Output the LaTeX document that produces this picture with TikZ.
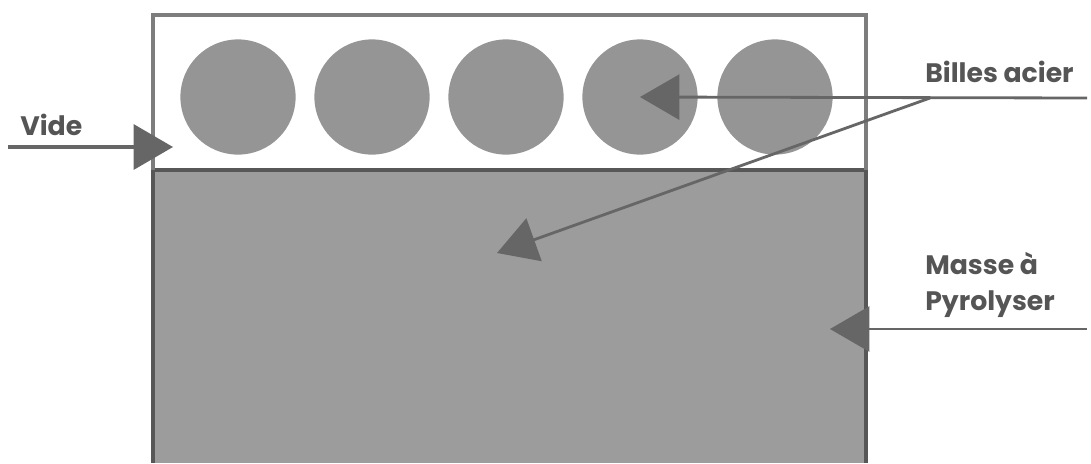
\documentclass[tikz,border=0pt]{standalone}
\usepackage{fontspec}
\setmainfont{Poppins}
\usepackage{tikz}
\usetikzlibrary{arrows.meta, positioning}

\definecolor{acier}{HTML}{959595}
\definecolor{masse}{HTML}{9C9C9C}
\definecolor{trait}{HTML}{666666}
\definecolor{texte}{HTML}{555555}

\tikzset{
  bille/.style={circle, fill=acier, minimum size=2.88cm, inner sep=0pt},
  etiquette/.style={font=\fontsize{19}{25}\selectfont\bfseries, text=texte, inner sep=0pt},
  fleche/.style={draw=trait, line width=2pt, -{Triangle[length=28pt,width=32pt]}},
}

\begin{document}
\begin{tikzpicture}[x=0.025cm, y=-0.025cm]
    \useasboundingbox (0,0) rectangle (1091,463);

    % Masse a pyrolyser (bas)
    \fill[masse] (153,170) rectangle (866,463);
    \draw[draw=trait!85!black, line width=2.2pt] (153,463) -- (153,170) -- (866,170) -- (866,463);

    % Espace vide avec les billes
    \draw[draw=trait!85, line width=2.2pt] (153,170) -- (153,15) -- (866,15) -- (866,170);
    \foreach \i/\x in {1/238, 2/372, 3/506, 4/640, 5/775}
        \node[bille] (b\i) at (\x,97) {};

    % Etiquettes
    \node[etiquette, anchor=west] (vide) at (20,125) {Vide};
    \node[etiquette, anchor=west] (billes) at (925,72) {Billes acier};
    \node[etiquette, anchor=west, align=left] (masse) at (925,285) {Masse à\\Pyrolyser};

    \coordinate (videG) at (8,147);
    \coordinate (videP) at (173,147);
    \coordinate (billesD) at (1087,98);
    \coordinate (billesJ) at (930,98);
    \coordinate (cible) at (497,253);
    \coordinate (masseD) at (1087,329);
    \coordinate (masseP) at (830,329);

    % Fleches
    \draw[fleche, line width=2.4pt] (videG) -- (videP);
    \draw[fleche] (billesD) -- (b4.center);
    \draw[fleche] (billesJ) -- (cible);
    \draw[fleche] (masseD) -- (masseP);
\end{tikzpicture}
\end{document}
